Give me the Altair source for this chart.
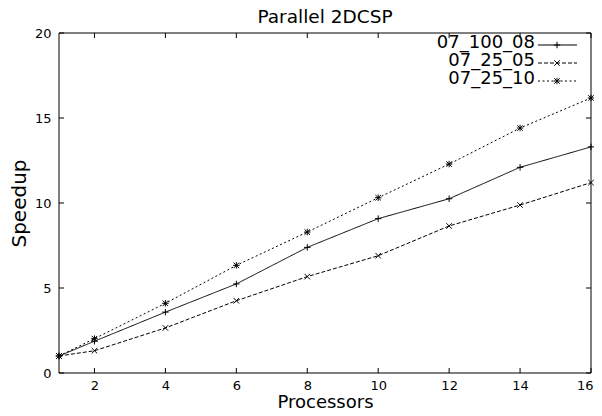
import altair as alt
import pandas as pd

# ---- data ----
procs = [1, 2, 4, 6, 8, 10, 12, 14, 16]
s_100_08 = [1.0, 1.87, 3.58, 5.24, 7.39, 9.08, 10.25, 12.1, 13.3]
s_25_05 = [1.0, 1.31, 2.65, 4.25, 5.67, 6.9, 8.65, 9.88, 11.2]
s_25_10 = [1.0, 2.02, 4.1, 6.33, 8.29, 10.31, 12.29, 14.41, 16.18]
series_names = ["07_100_08", "07_25_05", "07_25_10"]
x_ticks = [2, 4, 6, 8, 10, 12, 14, 16]
y_ticks = [0, 5, 10, 15, 20]
chart_title = ["Parallel 2DCSP"]

FONT = "DejaVu Sans"
W, H = 532, 340

plus = "M-1,0L1,0M0,-1L0,1"
cross = "M-0.85,-0.85L0.85,0.85M-0.85,0.85L0.85,-0.85"
star = plus + cross
shapes = [plus, cross, star]
dashes = [[1, 0], [4, 2], [2, 2.5]]

rows = []
for name, vals in zip(series_names, [s_100_08, s_25_05, s_25_10]):
    for p, v in zip(procs, vals):
        rows.append({"Processors": p, "Speedup": v, "series": name})
df = pd.DataFrame(rows)

xscale = alt.Scale(domain=[1, 16], nice=False, zero=False)
yscale = alt.Scale(domain=[0, 20], nice=False, zero=False)
xaxis = alt.Axis(values=x_ticks, title="Processors", grid=False, ticks=False, tickSize=0,
                 domain=False, labelPadding=6, labelFlush=True, labelFlushOffset=2,
                 titleY=34, titleBaseline="alphabetic",
                 labelFont=FONT, titleFont=FONT, labelFontSize=13, titleFontSize=18,
                 labelColor="black", titleColor="black", titleFontWeight="normal")
yaxis = alt.Axis(values=y_ticks, title="Speedup", grid=False, ticks=False, tickSize=0,
                 domain=False, labelPadding=8, labelFlush=False,
                 titleX=-40, titleY=H / 2, titleBaseline="middle", titleAngle=270,
                 labelFont=FONT, titleFont=FONT, labelFontSize=13, titleFontSize=20,
                 labelColor="black", titleColor="black", titleFontWeight="normal")

base = alt.Chart(df)
xenc_main = alt.X("Processors:Q", scale=xscale, axis=xaxis, title="Processors")
yenc_main = alt.Y("Speedup:Q", scale=yscale, axis=yaxis, title="Speedup")
lines = base.mark_line(color="black", strokeWidth=1).encode(
    x=xenc_main, y=yenc_main,
    strokeDash=alt.StrokeDash("series:N", scale=alt.Scale(domain=series_names, range=dashes), legend=None),
)
points = base.mark_point(filled=False, color="black", strokeWidth=1, size=42, opacity=1).encode(
    x=xenc_main, y=yenc_main,
    shape=alt.Shape("series:N", scale=alt.Scale(domain=series_names, range=shapes), legend=None),
)

TL = 5
xt = alt.Chart(pd.DataFrame({"Processors": x_ticks}))
yt = alt.Chart(pd.DataFrame({"Speedup": y_ticks}))
ticks_bottom = xt.mark_rule(color="black").encode(x=xenc_main, y=alt.value(H), y2=alt.value(H - TL))
ticks_top = xt.mark_rule(color="black").encode(x=xenc_main, y=alt.value(0), y2=alt.value(TL))
ticks_left = yt.mark_rule(color="black").encode(y=yenc_main, x=alt.value(0), x2=alt.value(TL))
ticks_right = yt.mark_rule(color="black").encode(y=yenc_main, x=alt.value(W), x2=alt.value(W - TL))

frame = alt.Chart(pd.DataFrame({"f": [0]})).mark_rect(
    fill=None, fillOpacity=0, stroke="black", strokeWidth=1).encode(
    x=alt.value(0), x2=alt.value(W), y=alt.value(0), y2=alt.value(H))

title_layer = alt.Chart(pd.DataFrame({"t": chart_title})).mark_text(
    align="center", baseline="alphabetic", font=FONT, fontSize=18.5, color="black").encode(
    text="t:N", x=alt.value(W / 2), y=alt.value(-10))

legend_layers = []
for i, name in enumerate(series_names):
    ypos = 12 + 18 * i
    ld = alt.Chart(pd.DataFrame({"label": [name]}))
    legend_layers.append(ld.mark_text(align="right", baseline="middle", font=FONT,
                                      fontSize=18, color="black").encode(
        text="label:N", x=alt.value(476), y=alt.value(ypos - 2)))
    legend_layers.append(ld.mark_rule(color="black", strokeWidth=1, strokeDash=dashes[i]).encode(
        x=alt.value(479), x2=alt.value(518), y=alt.value(ypos)))
    legend_layers.append(ld.mark_point(shape=shapes[i], filled=False, color="black",
                                       strokeWidth=1, size=42, opacity=1).encode(
        x=alt.value(498), y=alt.value(ypos)))

chart = alt.layer(
    frame, lines, points, ticks_bottom, ticks_top, ticks_left, ticks_right,
    title_layer, *legend_layers
).properties(
    width=W, height=H,
    autosize=alt.AutoSizeParams(type="none"),
    padding={"left": 51, "top": 25, "right": 3, "bottom": 35},
    background="white",
).configure_view(
    stroke=None
)

chart.save("out.html", embed_options={"renderer": "svg", "actions": False})
